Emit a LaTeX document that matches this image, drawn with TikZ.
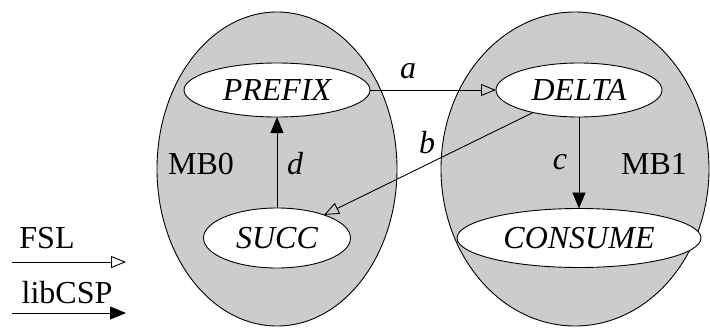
\documentclass[tikz,border=0pt]{standalone}
\usepackage{fontspec}
\setmainfont{Liberation Serif}
\usetikzlibrary{shapes.geometric,arrows.meta}
\definecolor{boxgrey}{RGB}{204,204,204}
\begin{document}
\begin{tikzpicture}[x=1pt,y=-1pt,
  font=\fontsize{32pt}{38pt}\selectfont,
  every node/.style={inner sep=0pt, outer sep=0pt},
  machine/.style={ellipse, draw, line width=0.9pt, fill=boxgrey},
  proc/.style={ellipse, draw, line width=0.9pt, fill=white,
    font=\fontsize{32pt}{38pt}\selectfont\itshape},
  fsl/.style={-{Triangle[open,length=15pt,width=12pt]}, line width=0.9pt},
  csp/.style={-{Triangle[length=16pt,width=13pt]}, line width=0.9pt},
  lbl/.style={anchor=base, font=\fontsize{32pt}{38pt}\selectfont\itshape},
  tag/.style={anchor=base}]
\useasboundingbox (0,0) rectangle (710,327);

% microblaze processors
\node[machine, minimum width=240pt, minimum height=314pt] (mb0) at (277,169) {};
\node[machine, minimum width=268pt, minimum height=314pt] (mb1) at (575,169) {};
\node[tag] (mb0lbl) at (201,174) {MB0};
\node[tag] (mb1lbl) at (654,174) {MB1};

% processes
\node[proc, minimum width=186pt, minimum height=54pt] (prefix) at (277,90) {PREFIX};
\node[proc, minimum width=166pt, minimum height=54pt] (delta) at (579,90) {DELTA};
\node[proc, minimum width=147pt, minimum height=60pt] (succ) at (277,238) {SUCC};
\node[proc, minimum width=244pt, minimum height=59pt] (consume) at (579,238) {CONSUME};

% channels
\draw[fsl] (prefix) -- (delta);
\draw[fsl] (delta) -- (succ);
\draw[csp] (delta) -- (consume);
\draw[csp] (succ) -- (prefix);
\node[lbl] (la) at (408,78) {a};
\node[lbl] (lb) at (427,153) {b};
\node[lbl] (lc) at (560,169) {c};
\node[lbl] (ld) at (295,174) {d};

% legend
\coordinate (f0) at (12,262);
\coordinate (f1) at (126,262);
\coordinate (c0) at (12,313);
\coordinate (c1) at (126,313);
\draw[fsl] (f0) -- (f1);
\draw[csp] (c0) -- (c1);
\node[tag] (fsllbl) at (47,248) {FSL};
\node[tag] (csplbl) at (67,303) {libCSP};
\end{tikzpicture}
\end{document}
